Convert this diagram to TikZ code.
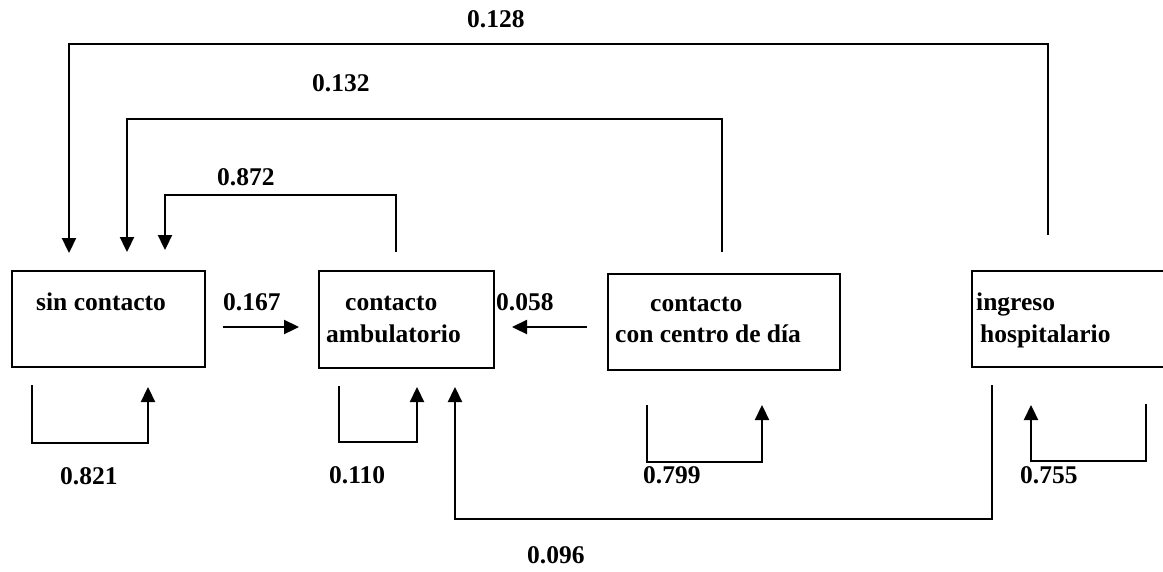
\documentclass[tikz,border=0pt]{standalone}
\usepackage{fontspec}
\setmainfont{Liberation Serif}
\usetikzlibrary{arrows.meta}
\begin{document}
\begin{tikzpicture}[x=1pt,y=-1pt,
  box/.style={draw,line width=2.4pt,inner sep=0pt,anchor=north west},
  lbl/.style={anchor=base west,inner sep=0pt,font=\fontsize{25.5}{30}\selectfont\bfseries},
  arr/.style={line width=2.3pt,-{Triangle[width=14pt,length=15pt]}}]
\useasboundingbox (0,0) rectangle (1163,571);
\begin{scope}
\clip (0,0) rectangle (1163,571);
% boxes
\node[box,minimum width=193pt,minimum height=96pt] (s) at (11,270) {};
\node[box,minimum width=175pt,minimum height=97pt] (a) at (318,270) {};
\node[box,minimum width=232pt,minimum height=96pt] (c) at (607,273) {};
\node[box,minimum width=240pt,minimum height=96pt] (h) at (971,270) {};
\end{scope}
% box texts
\node[lbl] (ts) at (36,310) {sin contacto};
\node[lbl] (ta1) at (345,310) {contacto};
\node[lbl] (ta2) at (326,342) {ambulatorio};
\node[lbl] (tc1) at (650,311) {contacto};
\node[lbl] (tc2) at (615,342) {con centro de día};
\node[lbl] (th1) at (976,310) {ingreso};
\node[lbl] (th2) at (980,342) {hospitalario};
% probabilities
\node[lbl] (p128) at (467,27) {0.128};
\node[lbl] (p132) at (312,91) {0.132};
\node[lbl] (p872) at (217,185) {0.872};
\node[lbl] (p167) at (223,310) {0.167};
\node[lbl] (p058) at (496,310) {0.058};
\node[lbl] (p821) at (60,484) {0.821};
\node[lbl] (p110) at (329,483) {0.110};
\node[lbl] (p799) at (643,483) {0.799};
\node[lbl] (p755) at (1020,483) {0.755};
\node[lbl] (p096) at (527,563) {0.096};
% connector points
\coordinate (h128) at (1048,235);
\coordinate (k128) at (69,44);
\coordinate (s128) at (69,253);
\coordinate (c132) at (722,252);
\coordinate (k132) at (127,119);
\coordinate (s132) at (127,252);
\coordinate (a872) at (396,252);
\coordinate (k872) at (165,195);
\coordinate (s872) at (165,250);
\coordinate (s167) at (223,327);
\coordinate (a167) at (299,327);
\coordinate (c058) at (587,327);
\coordinate (a058) at (512,327);
\coordinate (s1) at (32,385);
\coordinate (s2) at (148,443);
\coordinate (s3) at (148,387);
\coordinate (a1) at (339,386);
\coordinate (a2) at (417,442);
\coordinate (a3) at (417,387);
\coordinate (c1) at (647,405);
\coordinate (c2) at (762,462);
\coordinate (c3) at (762,405);
\coordinate (h1) at (1146,404);
\coordinate (h2) at (1031,461);
\coordinate (h3) at (1031,405);
\coordinate (h096) at (992,385);
\coordinate (k096) at (455,519);
\coordinate (a096) at (455,387);
% connectors
\draw[arr] (h128) |- (k128) -- (s128);
\draw[arr] (c132) |- (k132) -- (s132);
\draw[arr] (a872) |- (k872) -- (s872);
\draw[arr] (s167) -- (a167);
\draw[arr] (c058) -- (a058);
\draw[arr] (s1) |- (s2) -- (s3);
\draw[arr] (a1) |- (a2) -- (a3);
\draw[arr] (c1) |- (c2) -- (c3);
\draw[arr] (h1) |- (h2) -- (h3);
\draw[arr] (h096) |- (k096) -- (a096);
\end{tikzpicture}
\end{document}
